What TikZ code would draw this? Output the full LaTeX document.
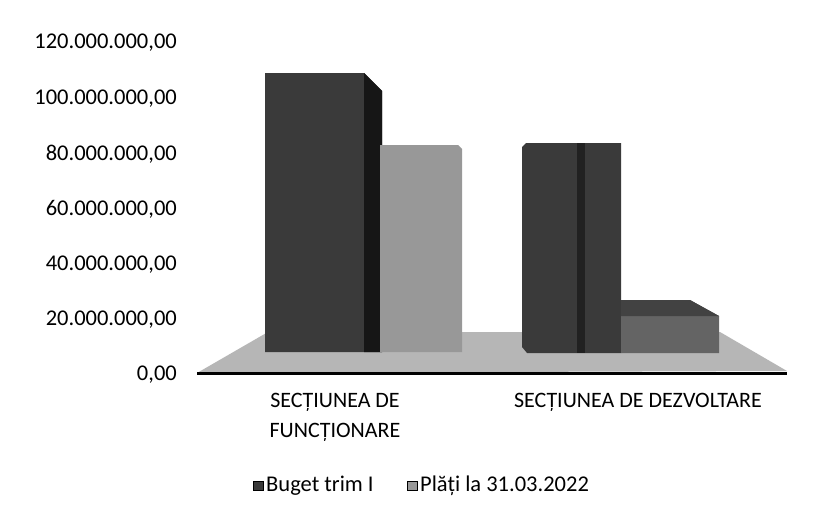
\documentclass[tikz,border=0pt]{standalone}
\usepackage{fontspec}
\setmainfont{Carlito}
\definecolor{bugetc}{RGB}{58,58,58}
\definecolor{bugetside}{RGB}{22,22,22}
\definecolor{platic}{RGB}{152,152,152}
\definecolor{platidark}{RGB}{100,100,100}
\definecolor{floorc}{RGB}{182,182,182}
\begin{document}
\begin{tikzpicture}[x=1pt,y=-1pt,
  ylab/.style={anchor=east,inner sep=0pt,font=\fontsize{22.5}{26}\selectfont},
  catlab/.style={inner sep=0pt,font=\fontsize{22}{30}\selectfont,align=center},
  leglab/.style={anchor=west,inner sep=0pt,font=\fontsize{22.5}{26}\selectfont},
  legbox/.style={minimum width=10pt,minimum height=9pt,inner sep=0pt,draw=black,line width=0.4pt}]
\useasboundingbox (0,0) rectangle (813,520);
\fill[white] (0,0) rectangle (813,520);
% y-axis labels
\node[ylab] (y120) at (177,43) {120.000.000,00};
\node[ylab] (y100) at (177,98.5) {100.000.000,00};
\node[ylab] (y80) at (177,154) {80.000.000,00};
\node[ylab] (y60) at (177,209) {60.000.000,00};
\node[ylab] (y40) at (177,264.5) {40.000.000,00};
\node[ylab] (y20) at (177,320) {20.000.000,00};
\node[ylab] (y0) at (177,375) {0,00};
% floor
\fill[floorc] (197,373) -- (268,332) -- (720,332) -- (787,371) -- cycle;
% bar 1: Buget, functionare
\fill[bugetc] (265,352) -- (265,73) -- (364,73) -- (382,91) -- (382,352) -- cycle;
\fill[bugetside] (364,73) -- (382,91) -- (382,352) -- (364,352) -- cycle;
% bar 2: Plati, functionare
\fill[platic] (380,352) -- (380,145) -- (458,145) -- (462,149) -- (462,352) -- cycle;
% bar 3: Buget, dezvoltare
\fill[bugetc] (527,353) -- (522,347) -- (522,147) -- (526,143) -- (621,143) -- (621,353) -- cycle;
\fill[bugetside!70!bugetc] (577,143) rectangle (585,353);
% bar 4: Plati, dezvoltare
\fill[platidark] (621,353) -- (621,300) -- (690,300) -- (719,316) -- (719,353) -- cycle;
\fill[bugetc!80!platidark] (621,300) -- (690,300) -- (719,316) -- (621,316) -- cycle;
% axis
\draw[line width=3pt] (197,373) -- (787,373);
% category labels
\node[catlab] (cat1) at (335,417) {SECȚIUNEA DE\\FUNCȚIONARE};
\node[catlab] (cat2) at (638,402) {SECȚIUNEA DE DEZVOLTARE};
% legend
\node[legbox,fill=bugetc] (lb1) at (258,486) {};
\node[leglab] (lt1) at (266,486) {Buget trim I};
\node[legbox,fill=platic] (lb2) at (412,486) {};
\node[leglab] (lt2) at (420,486) {Plăți la 31.03.2022};
\end{tikzpicture}
\end{document}
